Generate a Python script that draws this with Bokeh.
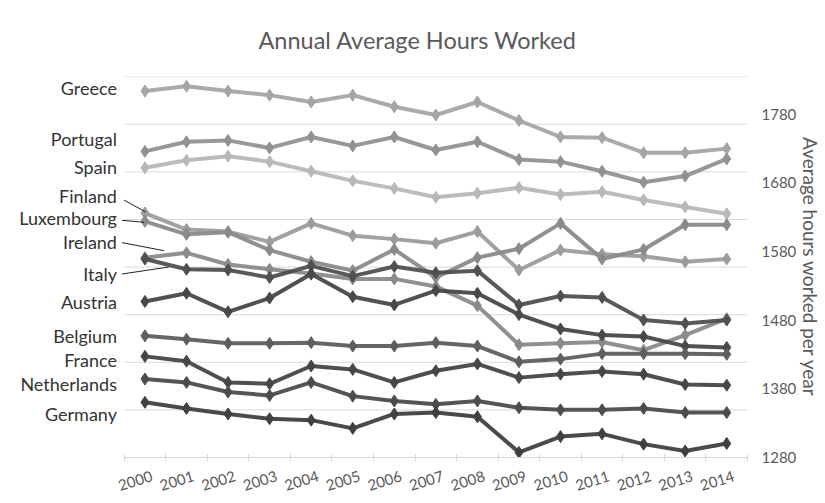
from bokeh.plotting import figure
from bokeh.models import FixedTicker, Range1d
from bokeh.embed import file_html
from bokeh.resources import INLINE
from bokeh.core.properties import value

# ---------------- data ----------------
years = list(range(2000, 2015))
countries = ["Greece", "Portugal", "Spain", "Finland", "Luxembourg", "Ireland",
             "Italy", "Austria", "Belgium", "France", "Netherlands", "Germany"]
greece      = [1814, 1821, 1814, 1808, 1798, 1808, 1791, 1779, 1798, 1771, 1747, 1746, 1724, 1724, 1730]
portugal    = [1726, 1740, 1742, 1731, 1747, 1734, 1747, 1728, 1740, 1714, 1711, 1697, 1681, 1690, 1715]
spain       = [1702, 1713, 1719, 1711, 1697, 1683, 1672, 1659, 1665, 1673, 1663, 1667, 1655, 1645, 1635]
finland     = [1636, 1612, 1609, 1594, 1621, 1603, 1598, 1592, 1609, 1553, 1582, 1576, 1573, 1565, 1569]
luxembourg  = [1624, 1605, 1608, 1582, 1565, 1552, 1583, 1542, 1571, 1584, 1621, 1569, 1583, 1619, 1619]
ireland     = [1571, 1578, 1561, 1554, 1548, 1540, 1540, 1529, 1501, 1444, 1446, 1448, 1436, 1458, 1482]
italy       = [1569, 1554, 1553, 1542, 1559, 1544, 1558, 1549, 1552, 1502, 1515, 1513, 1480, 1475, 1480]
austria     = [1507, 1519, 1492, 1512, 1547, 1514, 1502, 1523, 1519, 1488, 1467, 1458, 1456, 1442, 1440]
belgium     = [1457, 1452, 1446, 1446, 1447, 1442, 1442, 1447, 1442, 1419, 1423, 1431, 1431, 1431, 1430]
france      = [1427, 1420, 1389, 1387, 1413, 1408, 1389, 1406, 1416, 1396, 1401, 1405, 1401, 1386, 1385]
netherlands = [1394, 1389, 1375, 1370, 1389, 1369, 1362, 1357, 1362, 1352, 1349, 1349, 1351, 1345, 1345]
germany     = [1360, 1351, 1343, 1336, 1334, 1322, 1343, 1345, 1339, 1287, 1310, 1314, 1299, 1289, 1300]
series = [greece, portugal, spain, finland, luxembourg, ireland,
          italy, austria, belgium, france, netherlands, germany]
y_ticks = [1280, 1380, 1480, 1580, 1680, 1780]

# ---------------- styles ----------------
colors = ["#a5a5a5", "#929292", "#b8b8b8", "#9c9c9c", "#8a8a8a", "#8a8a8a",
          "#505050", "#484848", "#5e5e5e", "#464646", "#4c4c4c", "#404040"]
label_dy = [3, 12, 1, 17, 3, 16, -15, 0, 0, -4, -5, -12]   # px, up positive
FONT = "Lato"
TXT = "#595959"

W, H = 825, 503
plot_left, plot_right = 124, 749          # visible plotting area (px)
top, bottom = 76, 46
right = W - plot_right
frame_h = H - top - bottom

px_per_year = (plot_right - plot_left) / len(years)
x_lo, x_hi = years[0] - 0.5, years[-1] + 0.5
x_start = x_lo - plot_left / px_per_year   # frame extends to the left edge for the labels

y0 = 1279.5
px_per_unit = 0.686
grid_step = frame_h / 8 / px_per_unit
y1 = y0 + 8 * grid_step + 0.3
grid_vals = [y0 + k * grid_step for k in range(1, 9)]

p = figure(width=W, height=H, output_backend="svg", toolbar_location=None,
           x_range=Range1d(x_start, x_hi), y_range=Range1d(y0, y1),
           y_axis_location="right",
           min_border_left=0, min_border_right=right,
           min_border_top=top, min_border_bottom=bottom,
           title="Annual Average Hours Worked")
p.outline_line_color = None
p.background_fill_color = "white"
p.border_fill_color = "white"

p.title.align = "left"
p.title.offset = 258
p.title.standoff = 46
p.title.text_font = FONT
p.title.text_font_size = "23.5px"
p.title.text_font_style = "normal"
p.title.text_color = TXT

shift = 7 / px_per_year
xticks = [y + shift for y in years]
xa = p.xaxis[0]
xa.bounds = (x_lo, x_hi)
xa.ticker = FixedTicker(ticks=xticks, minor_ticks=[y - 0.5 for y in years] + [x_hi])
xa.major_label_overrides = {t: str(y) for t, y in zip(xticks, years)}
xa.major_tick_in = 0
xa.major_tick_out = 0
xa.minor_tick_in = 4
xa.minor_tick_out = 4
xa.minor_tick_line_color = "#d9d9d9"
xa.axis_line_color = "#d9d9d9"
xa.major_label_orientation = 0.3
xa.major_label_text_font = FONT
xa.major_label_text_font_size = "15px"
xa.major_label_text_color = TXT
xa.major_label_standoff = 14

ya = p.yaxis[0]
ya.ticker = FixedTicker(ticks=y_ticks)
ya.axis_line_color = None
ya.major_tick_line_color = None
ya.minor_tick_line_color = None
ya.major_tick_out = 0
ya.minor_tick_out = 0
ya.major_tick_in = 0
ya.major_label_text_font = FONT
ya.major_label_text_font_size = "15px"
ya.major_label_text_color = TXT
ya.major_label_standoff = 14
ya.axis_label = "Average hours worked per year"
ya.axis_label_text_font = FONT
ya.axis_label_text_font_size = "19px"
ya.axis_label_text_font_style = "normal"
ya.axis_label_text_color = TXT
ya.axis_label_text_line_height = 0.7
ya.axis_label_standoff = 0

p.xgrid.grid_line_color = None
p.ygrid.grid_line_color = None
# horizontal gridlines limited to the plotting area
p.segment(x0=[x_lo] * len(grid_vals), x1=[x_hi] * len(grid_vals), y0=grid_vals, y1=grid_vals,
          line_color="#d9d9d9", line_width=1, level="underlay")

for vals, c in zip(series, colors):
    p.line(years, vals, line_width=4, line_color=c, line_alpha=0.95)
    p.scatter(years, vals, marker="diamond", size=12, fill_color=c, line_color=c)

# country labels next to the first point
p.text(x=[years[0]] * len(countries),
       y=[s[0] + dy / px_per_unit for s, dy in zip(series, label_dy)],
       text=countries, x_offset=-28, text_align="right", text_baseline="middle",
       text_font=value(FONT), text_font_size="18px", text_color="#333333")

# leader lines (label end -> line), offsets in px from the first point
leaders = {"Finland": (-21, 13, 1, 1), "Luxembourg": (-23, 1, -1, -1),
           "Ireland": (-23, 15, 19, 7), "Italy": (-23, -15, 24, -8)}
lx0, ly0, lx1, ly1 = [], [], [], []
for name, (dx0, dy0, dx1, dy1) in leaders.items():
    s = series[countries.index(name)]
    lx0.append(years[0] + dx0 / px_per_year)
    ly0.append(s[0] + dy0 / px_per_unit)
    lx1.append(years[0] + dx1 / px_per_year)
    ly1.append(s[0] + dy1 / px_per_unit)
p.segment(x0=lx0, y0=ly0, x1=lx1, y1=ly1, line_color="#222222", line_width=1)

open("out.html", "w").write(file_html(p, INLINE))
